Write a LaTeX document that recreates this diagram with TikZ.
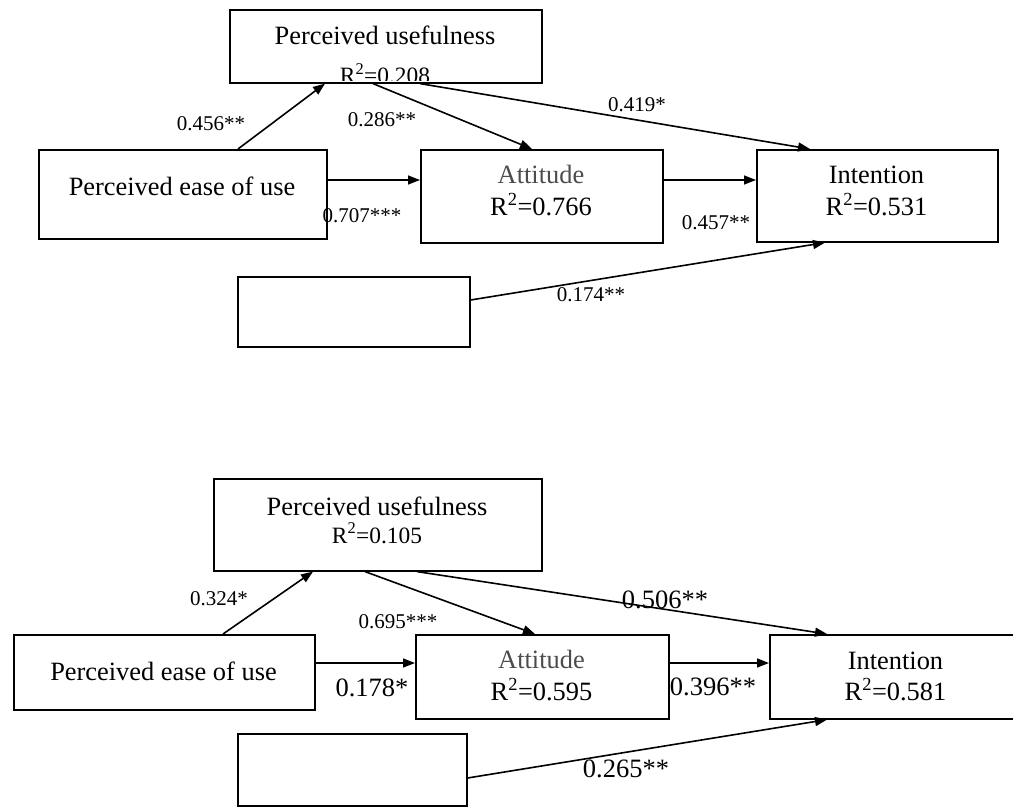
\documentclass[tikz,border=0pt]{standalone}
\usepackage{fontspec}
\setmainfont{Liberation Serif}
\usetikzlibrary{arrows.meta}
\begin{document}
\begin{tikzpicture}[x=1pt,y=-1pt,
  box/.style={draw,line width=1.6pt,inner sep=0pt,anchor=north west},
  conn/.style={line width=1.6pt,-{Triangle[length=12pt,width=9pt]}},
  boxtext/.style={anchor=base,inner sep=0pt,font=\fontsize{26.4pt}{30pt}\selectfont},
  rtext/.style={anchor=base,inner sep=0pt,font=\fontsize{23.4pt}{28pt}\selectfont},
  small/.style={anchor=base,inner sep=0pt,font=\fontsize{21pt}{25pt}\selectfont},
  big/.style={anchor=base,inner sep=0pt,font=\fontsize{26.5pt}{30pt}\selectfont}]
\useasboundingbox (0,0) rectangle (1013,808);
% ---------------- top model ----------------
\node[box,minimum width=312pt,minimum height=73pt] (pu1) at (229,9) {};
\node[box,minimum width=288pt,minimum height=89pt] (peou1) at (38,149) {};
\node[box,minimum width=242pt,minimum height=93pt] (att1) at (420,149) {};
\node[box,minimum width=241pt,minimum height=92pt] (int1) at (756,149) {};
\node[box,minimum width=232pt,minimum height=70pt] (emp1) at (237,276) {};
\node[boxtext] (pu1a) at (385,45) {Perceived usefulness};
\begin{scope}
\clip (229,9) rectangle (541,81);
\node[rtext] (pu1b) at (385,84) {R\textsuperscript{2}=0.208};
\end{scope}
\node[boxtext] (peou1a) at (182,195) {Perceived ease of use};
\node[boxtext,text=black!70] (att1a) at (541,183) {Attitude};
\node[boxtext] (att1b) at (541,215) {R\textsuperscript{2}=0.766};
\node[boxtext] (int1a) at (876.5,183) {Intention};
\node[boxtext] (int1b) at (876.5,215) {R\textsuperscript{2}=0.531};
\draw[conn] ([xshift=200pt]peou1.north west) -- ([xshift=96pt]pu1.south west);
\draw[conn] ([xshift=144pt]pu1.south west) -- ([xshift=112pt]att1.north west);
\draw[conn] ([xshift=191pt]pu1.south west) -- ([xshift=54pt]int1.north west);
\draw[conn] ([yshift=-31pt]peou1.north east) -- ([yshift=-31pt]att1.north west);
\draw[conn] ([yshift=-31pt]att1.north east) -- ([yshift=-31pt]int1.north west);
\draw[conn] ([yshift=-24pt]emp1.north east) -- ([xshift=69pt]int1.south west);
\node[small] (l1) at (211,131) {0.456**};
\node[small] (l2) at (382,127) {0.286**};
\node[small] (l3) at (637,111) {0.419*};
\node[small] (l4) at (362,222) {0.707***};
\node[small] (l5) at (716,229) {0.457**};
\node[small] (l6) at (591,301) {0.174**};
% ---------------- bottom model ----------------
\node[box,minimum width=328pt,minimum height=92pt] (pu2) at (213,478) {};
\node[box,minimum width=301pt,minimum height=75pt] (peou2) at (13,634) {};
\node[box,minimum width=253pt,minimum height=84pt] (att2) at (415,634) {};
\node[box,minimum width=253pt,minimum height=84pt] (int2) at (769,634) {};
\node[box,minimum width=229pt,minimum height=72pt] (emp2) at (237,733) {};
\node[boxtext] (pu2a) at (377,515) {Perceived usefulness};
\node[rtext] (pu2b) at (377,543) {R\textsuperscript{2}=0.105};
\node[boxtext] (peou2a) at (163.5,680) {Perceived ease of use};
\node[boxtext,text=black!70] (att2a) at (541.5,668) {Attitude};
\node[boxtext] (att2b) at (541.5,700) {R\textsuperscript{2}=0.595};
\node[boxtext] (int2a) at (895.5,669) {Intention};
\node[boxtext] (int2b) at (895.5,700) {R\textsuperscript{2}=0.581};
\draw[conn] ([xshift=210pt]peou2.north west) -- ([xshift=100pt]pu2.south west);
\draw[conn] ([xshift=152pt]pu2.south west) -- ([xshift=120pt]att2.north west);
\draw[conn] ([xshift=204pt]pu2.south west) -- ([xshift=58pt]int2.north west);
\draw[conn] ([yshift=-29pt]peou2.north east) -- ([yshift=-29pt]att2.north west);
\draw[conn] ([yshift=-29pt]att2.north east) -- ([yshift=-29pt]int2.north west);
\draw[conn] ([yshift=-45pt]emp2.north east) -- ([xshift=58pt]int2.south west);
\node[small] (m1) at (219,605) {0.324*};
\node[small] (m2) at (398,628) {0.695***};
\node[big] (m3) at (665,608) {0.506**};
\node[big] (m4) at (713,695) {0.396**};
\node[big] (m5) at (372,696) {0.178*};
\node[big] (m6) at (626,777) {0.265**};
\end{tikzpicture}
\end{document}
